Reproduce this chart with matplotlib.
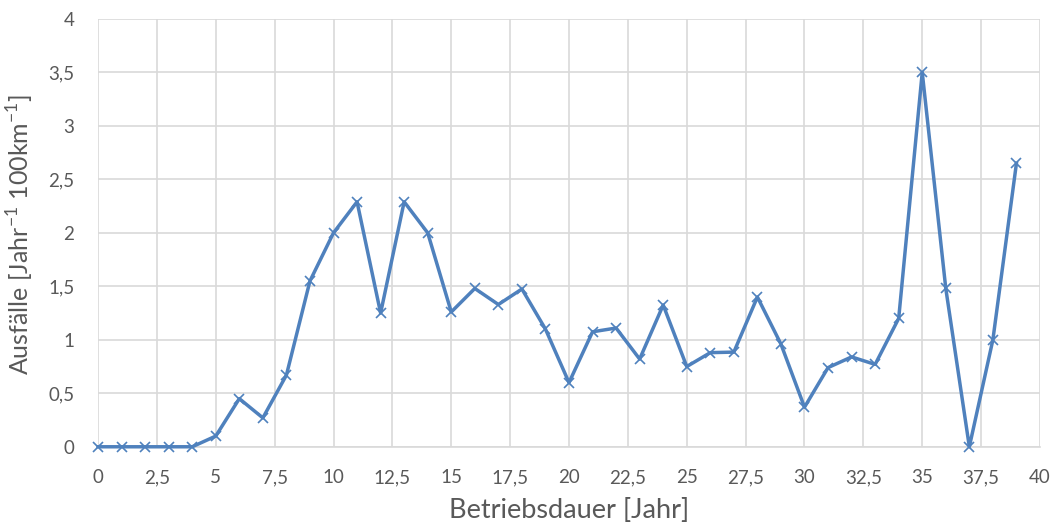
import numpy as np
import matplotlib.pyplot as plt
from matplotlib.ticker import FuncFormatter, MultipleLocator

plt.rcParams['font.family'] = ['Lato', 'DejaVu Sans']

# Betriebsdauer in Jahren und Ausfallrate je Jahr
jahre = list(range(0, 40))
ausfaelle = [0, 0, 0, 0, 0, 0.10, 0.45, 0.27, 0.67, 1.55,
             2.00, 2.29, 1.25, 2.29, 2.00, 1.26, 1.48, 1.33, 1.475, 1.10,
             0.60, 1.075, 1.11, 0.82, 1.325, 0.75, 0.88, 0.885, 1.40, 0.96,
             0.37, 0.74, 0.84, 0.77, 1.20, 3.50, 1.48, 0.0, 1.00, 2.65]

blau = '#4f81bd'
grau = '#595959'

fig = plt.figure(figsize=(10.54, 5.25), dpi=100)
ax = fig.add_axes([0.093, 0.149, 0.8937, 0.815])

ax.plot(jahre, ausfaelle, color=blau, linewidth=2.5, marker='x',
        markersize=6.5, markeredgewidth=1.2, clip_on=False, zorder=3)

ax.set_xlim(0, 40)
ax.set_ylim(0, 4)
ax.xaxis.set_major_locator(MultipleLocator(2.5))
ax.yaxis.set_major_locator(MultipleLocator(0.5))

komma = FuncFormatter(lambda v, pos: ('%g' % v).replace('.', ','))
ax.xaxis.set_major_formatter(komma)
ax.yaxis.set_major_formatter(komma)

ax.grid(True, color='#d9d9d9', linewidth=1.2)
ax.set_axisbelow(True)
for s in ['top', 'right', 'left']:
    ax.spines[s].set_visible(False)
ax.spines['bottom'].set_color('#d9d9d9')
ax.spines['bottom'].set_linewidth(1.2)

ax.tick_params(axis='both', length=0, labelsize=13.5, labelcolor=grau)
ax.tick_params(axis='x', pad=16)
ax.tick_params(axis='y', pad=17)

ax.set_xlabel('Betriebsdauer [Jahr]', fontsize=19.5, color=grau)
ax.set_ylabel(r'Ausfälle [Jahr$^{\mathregular{-1}}$ 100km$^{\mathregular{-1}}$]',
              fontsize=18, color=grau)
ax.xaxis.set_label_coords(0.5, -0.119)
ax.yaxis.set_label_coords(-0.066, 0.495)

fig.savefig('out.png', dpi=100)
